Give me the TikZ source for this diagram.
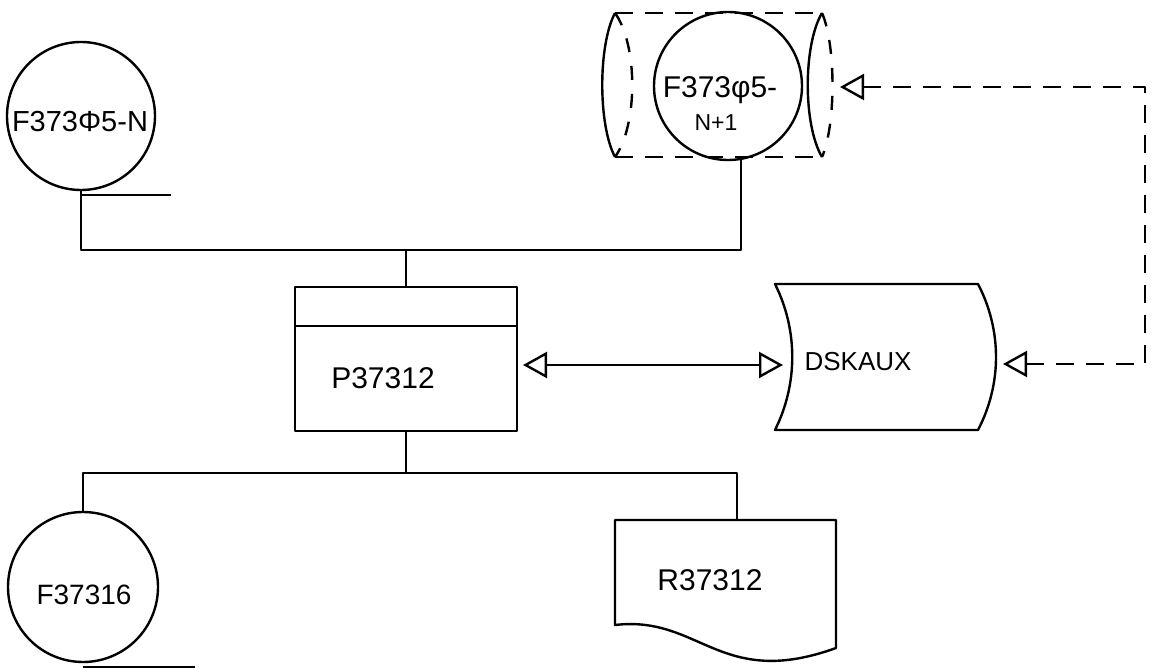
\documentclass[tikz,border=0pt]{standalone}
\usepackage{fontspec}
\setmainfont{Liberation Sans}
\usetikzlibrary{arrows.meta,calc}
\begin{document}
\begin{tikzpicture}[x=1pt,y=-1pt, line width=2.4pt, line join=round,
  lbl/.style={font=\fontsize{30}{32}\selectfont, inner sep=0pt},
  disk/.style={circle, draw, minimum size=148pt, inner sep=0pt},
  frame/.style={rectangle, inner sep=0pt, outer sep=0pt},
  dsh/.style={dash pattern=on 18pt off 12pt},
  dsharc/.style={dash pattern=on 14pt off 14pt},
  >={Triangle[open, length=24pt, width=26pt]}]
\useasboundingbox (0,0) rectangle (1152,668);
\fill[white] (0,0) rectangle (1152,668);

% shapes
\node[disk] (f1) at (81,116) {};
\node[disk] (f2) at (728,86) {};
\node[disk, minimum size=150pt] (f3) at (83,587) {};
\node[frame, draw, minimum width=222pt, minimum height=144pt] (p) at (406,359) {};
\node[frame, minimum width=203pt, minimum height=146pt] (d) at (876.5,357) {};
\node[frame, minimum width=221pt, minimum height=105pt] (r) at (725.5,572.5) {};
\node[frame, minimum width=207pt, minimum height=144pt] (drum) at (718.5,85) {};

% process box divider
\draw ($(p.north west)+(0,39)$) -- ($(p.north east)+(0,39)$);

% dashed drum around F373φ5-N+1
\draw[dsh] (drum.north west) -- (drum.north east);
\draw[dsh] (drum.south west) -- (drum.south east);
\draw (drum.north west) .. controls ($(drum.north west)+(-17,32)$) and ($(drum.south west)+(-17,-32)$) .. (drum.south west);
\draw[dsharc] (drum.north west) .. controls ($(drum.north west)+(23,32)$) and ($(drum.south west)+(23,-32)$) .. (drum.south west);
\draw (drum.north east) .. controls ($(drum.north east)+(-19,32)$) and ($(drum.south east)+(-19,-32)$) .. (drum.south east);
\draw[dsharc] (drum.north east) .. controls ($(drum.north east)+(14,32)$) and ($(drum.south east)+(14,-32)$) .. (drum.south east);

% DSKAUX storage shape
\draw (d.north west) -- (d.north east)
  .. controls ($(d.north east)+(24,46)$) and ($(d.south east)+(24,-46)$) .. (d.south east)
  -- (d.south west)
  .. controls ($(d.south west)+(23,-46)$) and ($(d.north west)+(23,46)$) .. (d.north west) -- cycle;

% document R37312
\draw (r.south west) -- (r.north west) -- (r.north east) -- ($(r.south east)+(0,23)$)
  .. controls ($(r.south east)+(-116,65)$) and ($(r.south west)+(85,-10)$) .. (r.south west) -- cycle;

% texts
\node[lbl, font=\fontsize{29}{30}\selectfont] (f1t) at (80,122) {F373Φ5-N};
\node[lbl] (f2t) at (720,90) {F373φ5-};
\node[lbl, font=\fontsize{23}{24}\selectfont] (f2n) at (716,123) {N+1};
\node[lbl] (pt) at (383,378) {P37312};
\node[lbl, font=\fontsize{26}{28}\selectfont] (dt) at (858,362) {DSKAUX};
\node[lbl] (rt) at (710,580) {R37312};
\node[lbl, font=\fontsize{28}{30}\selectfont] (f3t) at (84,595) {F37316};

% connectors top
\coordinate (f2in) at (f2.-80);
\coordinate (busT) at ($(f2in)+(0,90)$);
\draw (f1.south) |- (busT) -- (f2in);
\draw (p.north) -- (p.north |- busT);
\draw ($(f1.south)+(0,4)$) -- ++(90,0);

% connectors bottom
\coordinate (rin) at ($(r.north west)+(122,0)$);
\coordinate (busB) at ($(rin)+(0,-47)$);
\draw (f3.north) |- (busB) -- (rin);
\draw (p.south) -- (p.south |- busB);
\draw ($(f3.south)+(0,4)$) -- ++(112,0);

% double arrow P37312 <-> DSKAUX
\coordinate (pE) at ($(p.east)+(0,6)$);
\coordinate (dW) at ($(d.west)+(16,8)$);
\draw[<->, shorten <=6pt, shorten >=8pt] (pE) -- (dW);

% dashed return connector
\coordinate (drumE) at ($(drum.east)+(18,2)$);
\coordinate (cR) at (1145,364);
\coordinate (dE) at ($(d.east)+(25,7)$);
\draw[dsh, <->] (drumE) -| (cR) -- (dE);
\end{tikzpicture}
\end{document}
